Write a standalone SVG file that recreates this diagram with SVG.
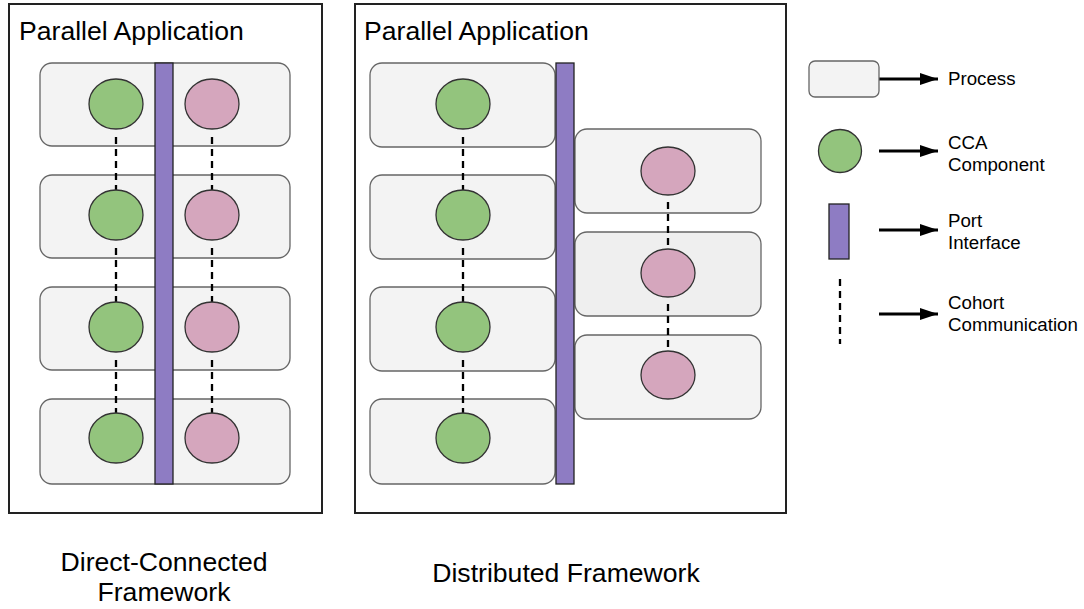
<svg xmlns="http://www.w3.org/2000/svg" width="1084" height="609" viewBox="0 0 1084 609">
<defs>
<style>
.frame{fill:#fff;stroke:#222;stroke-width:2}
.proc{fill:#f3f3f3;stroke:#666;stroke-width:1.3}
.proc2{fill:#efefef;stroke:#666;stroke-width:1.3}
.green{fill:#93c47d;stroke:#333;stroke-width:1.3}
.pink{fill:#d5a6bd;stroke:#333;stroke-width:1.3}
.port{fill:#8e7cc3;stroke:#222;stroke-width:1.3}
.dash{stroke:#000;stroke-width:2.3;stroke-dasharray:7 5;fill:none}
.arrow{stroke:#000;stroke-width:3;fill:none;marker-end:url(#ah)}
.title{font-family:"Liberation Sans",Arial,sans-serif;font-size:26.6px;fill:#000}
.cap{font-family:"Liberation Sans",Arial,sans-serif;font-size:26.6px;fill:#000}
.leg{font-family:"Liberation Sans",Arial,sans-serif;font-size:18.7px;fill:#000}
</style>
<marker id="ah" viewBox="0 0 18 12" refX="18" refY="6" markerWidth="18" markerHeight="12" markerUnits="userSpaceOnUse" orient="auto"><path d="M0,0 L18,6 L0,12 z" fill="#000"/></marker>
</defs>
<rect width="1084" height="609" fill="#fff"/>

<g id="frame-direct">
<rect class="frame" x="9" y="4" width="313" height="509"/>
<text class="title" x="19" y="40">Parallel Application</text>
</g>
<g id="frame-distributed">
<rect class="frame" x="355" y="4" width="431" height="509"/>
<text class="title" x="364" y="40">Parallel Application</text>
</g>

<g id="direct-processes">
<rect class="proc" x="40" y="63" width="250" height="83" rx="12"/>
<rect class="proc" x="40" y="175" width="250" height="83" rx="12"/>
<rect class="proc" x="40" y="287" width="250" height="83" rx="12"/>
<rect class="proc" x="40" y="399" width="250" height="85" rx="12"/>
</g>

<g id="dist-processes">
<rect class="proc" x="370" y="63" width="185" height="84" rx="12"/>
<rect class="proc" x="370" y="175" width="185" height="84" rx="12"/>
<rect class="proc" x="370" y="287" width="185" height="84" rx="12"/>
<rect class="proc" x="370" y="399" width="185" height="85" rx="12"/>
<rect class="proc" x="575" y="129" width="186" height="84" rx="12"/>
<rect class="proc2" x="575" y="232" width="186" height="84" rx="12"/>
<rect class="proc" x="575" y="335" width="186" height="84" rx="12"/>
</g>

<g id="connectors">
<line class="dash" x1="116" y1="137" x2="116" y2="190"/>
<line class="dash" x1="116" y1="248" x2="116" y2="302"/>
<line class="dash" x1="116" y1="360" x2="116" y2="413"/>
<line class="dash" x1="212" y1="137" x2="212" y2="190"/>
<line class="dash" x1="212" y1="248" x2="212" y2="302"/>
<line class="dash" x1="212" y1="360" x2="212" y2="413"/>
<line class="dash" x1="463" y1="137" x2="463" y2="190"/>
<line class="dash" x1="463" y1="248" x2="463" y2="302"/>
<line class="dash" x1="463" y1="360" x2="463" y2="413"/>
<line class="dash" x1="668" y1="202" x2="668" y2="249"/>
<line class="dash" x1="668" y1="304" x2="668" y2="351"/>
<line class="arrow" x1="879" y1="79" x2="938" y2="79"/>
<line class="arrow" x1="879" y1="151" x2="938" y2="151"/>
<line class="arrow" x1="879" y1="230" x2="938" y2="230"/>
<line class="arrow" x1="879" y1="314" x2="938" y2="314"/>
</g>

<g id="direct-ports">
<rect class="port" x="155" y="63" width="18" height="421"/>
</g>
<g id="dist-ports">
<rect class="port" x="556" y="63" width="18" height="421"/>
</g>

<g id="direct-components">
<ellipse class="green" cx="116" cy="104" rx="27" ry="25"/>
<ellipse class="green" cx="116" cy="215" rx="27" ry="25"/>
<ellipse class="green" cx="116" cy="327" rx="27" ry="25"/>
<ellipse class="green" cx="116" cy="438" rx="27" ry="25"/>
<ellipse class="pink" cx="212" cy="104" rx="27" ry="25"/>
<ellipse class="pink" cx="212" cy="215" rx="27" ry="25"/>
<ellipse class="pink" cx="212" cy="327" rx="27" ry="25"/>
<ellipse class="pink" cx="212" cy="438" rx="27" ry="25"/>
</g>

<g id="dist-components">
<ellipse class="green" cx="463" cy="104" rx="27" ry="25"/>
<ellipse class="green" cx="463" cy="215" rx="27" ry="25"/>
<ellipse class="green" cx="463" cy="327" rx="27" ry="25"/>
<ellipse class="green" cx="463" cy="438" rx="27" ry="25"/>
<ellipse class="pink" cx="668" cy="171" rx="27" ry="24"/>
<ellipse class="pink" cx="668" cy="273" rx="27" ry="24"/>
<ellipse class="pink" cx="668" cy="375" rx="27" ry="24"/>
</g>

<g id="legend-process">
<rect class="proc" x="809" y="61" width="70" height="36" rx="6"/>
<text class="leg" x="948" y="85">Process</text>
</g>
<g id="legend-component">
<circle class="green" cx="840" cy="151" r="21.5"/>
<text class="leg" x="948" y="149">CCA</text>
<text class="leg" x="948" y="171">Component</text>
</g>
<g id="legend-port">
<rect class="port" x="829" y="204" width="20" height="55"/>
<text class="leg" x="948" y="227">Port</text>
<text class="leg" x="948" y="249">Interface</text>
</g>
<g id="legend-cohort">
<line class="dash" x1="840" y1="279" x2="840" y2="344"/>
<text class="leg" x="948" y="309">Cohort</text>
<text class="leg" x="948" y="331">Communication</text>
</g>

<g id="captions">
<text class="cap" x="164" y="571" text-anchor="middle">Direct-Connected</text>
<text class="cap" x="164" y="601" text-anchor="middle">Framework</text>
<text class="cap" x="566" y="582" text-anchor="middle">Distributed Framework</text>
</g>
</svg>
